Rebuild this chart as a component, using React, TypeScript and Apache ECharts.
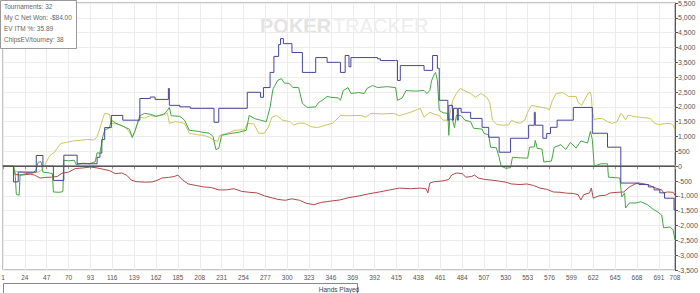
import React, { useEffect, useRef } from "react";
import * as echarts from "echarts";

// ---- data (hand number, value) ----
const handsMin = 1;
const handsMax = 708;
const handsStep = 23;
const yMin = -3500;
const yMax = 5500;
const yStep = 500;

const infoLines = ["Tournaments: 32", "My C Net Won: -$84.00", "EV ITM %: 35.89", "ChipsEV/tourney: 38"];
const xAxisTitle = "Hands Played";

// blue (step line)
const blueData = [[1,0],[12,-530],[17,-200],[36,360],[43,0],[54,-480],[65,370],[79,80],[100,300],[103,440],[105,900],[108,1300],[115,1710],[127,1550],[145,2280],[156,2330],[161,2250],[175,2620],[176,2050],[187,2000],[198,1950],[223,1480],[228,1950],[258,2490],[272,2320],[275,2650],[282,3160],[286,3700],[291,4100],[293,4300],[296,4130],[305,3830],[316,3160],[330,3660],[342,3500],[354,3500],[356,3160],[361,3730],[365,3350],[367,3660],[395,3620],[398,3560],[414,3560],[416,2890],[419,3390],[444,3230],[453,3730],[458,3300],[460,2220],[469,1550],[470,2050],[474,1550],[475,1950],[479,1550],[480,1950],[483,1815],[493,1610],[505,1310],[512,975],[523,470],[535,940],[554,1380],[560,1815],[561,1380],[569,940],[573,1100],[577,1310],[584,1550],[601,1980],[621,1110],[637,640],[651,-570],[670,-620],[680,-700],[686,-800],[692,-900],[697,-1080],[707,-1480],[708,-1480]];

const greenData = [[1,0],[12,0],[14,-350],[15,-950],[18,-980],[19,-300],[25,-250],[33,-230],[36,-100],[38,130],[41,150],[43,-200],[50,-230],[53,-250],[54,-870],[60,-880],[64,-860],[65,200],[70,180],[76,200],[78,50],[85,100],[92,80],[98,150],[100,450],[103,440],[106,1000],[108,1210],[113,1300],[115,1550],[120,1440],[127,1350],[130,1300],[134,1250],[137,970],[140,1200],[145,1700],[150,1780],[156,1750],[162,1680],[170,1750],[174,1880],[176,1980],[178,1700],[187,1680],[192,1550],[197,1210],[205,1180],[210,1150],[218,1110],[222,1000],[225,560],[228,600],[231,1040],[240,1100],[250,1150],[257,1210],[260,1710],[266,1600],[272,1550],[278,1500],[282,1980],[285,2600],[290,2890],[294,2950],[297,2800],[302,2790],[306,2650],[312,2650],[316,2120],[321,1980],[330,2000],[333,2150],[337,2220],[342,2350],[346,2320],[354,2300],[356,2220],[359,2550],[364,2650],[367,2450],[375,2480],[381,2450],[384,2620],[390,2720],[395,2650],[405,2680],[414,2650],[416,2220],[421,2300],[425,2550],[435,2530],[444,2550],[447,2450],[450,2550],[452,2890],[455,3120],[456,3160],[458,2900],[460,1880],[464,1800],[469,1780],[470,1040],[471,1600],[474,1550],[476,1300],[478,1710],[483,1700],[487,1550],[493,1500],[496,1280],[505,1250],[507,1110],[512,1050],[514,640],[520,620],[523,300],[525,0],[530,-70],[535,-50],[537,300],[545,280],[553,270],[555,640],[560,650],[561,870],[563,600],[568,580],[570,140],[578,170],[581,640],[588,720],[593,560],[598,800],[604,610],[609,850],[616,780],[619,1170],[621,900],[623,0],[630,80],[637,80],[638,-370],[650,-400],[652,-1040],[655,-900],[656,-1410],[660,-1240],[667,-1240],[672,-1200],[679,-1300],[685,-1450],[690,-1550],[694,-1650],[696,-2080],[703,-2050],[706,-2150],[708,-2490]];

const yellowData = [[1,0],[12,0],[14,-180],[25,-200],[35,-220],[38,-200],[41,-150],[46,100],[50,350],[55,470],[58,600],[62,770],[68,800],[75,850],[82,870],[90,900],[97,880],[100,1000],[103,1280],[106,1600],[108,1780],[113,1750],[115,1440],[122,1420],[127,1350],[130,1300],[134,1150],[137,970],[140,1200],[145,1650],[150,1620],[156,1700],[162,1680],[170,1730],[174,1800],[176,1440],[182,1500],[187,1480],[192,1440],[197,1110],[205,1060],[212,1040],[218,975],[223,870],[227,840],[229,1040],[236,1100],[245,1210],[255,1230],[258,1440],[265,1420],[270,1110],[276,1110],[280,1310],[284,1650],[289,1710],[295,1550],[303,1500],[307,1380],[312,1450],[318,1450],[325,1330],[332,1300],[340,1380],[348,1450],[356,1710],[365,1700],[377,1710],[383,1650],[388,1780],[400,1760],[412,1780],[418,1700],[430,1820],[440,1950],[444,1650],[450,1815],[455,1750],[460,1700],[464,1550],[470,1550],[472,1880],[474,2200],[478,2450],[482,2620],[486,2550],[493,2450],[498,2320],[504,2450],[510,2320],[513,2150],[516,1550],[521,1400],[527,1380],[533,1390],[536,1550],[540,1480],[545,1450],[550,1550],[553,1815],[557,2050],[565,2000],[573,1950],[576,1900],[579,2220],[583,2450],[590,2480],[596,2350],[604,2350],[606,2150],[610,2050],[613,2250],[617,2470],[619,2490],[620,2350],[621,1850],[623,1560],[627,1610],[632,1600],[637,1500],[642,1440],[647,1500],[651,1780],[653,1720],[656,1560],[659,1720],[665,1670],[674,1640],[682,1610],[686,1460],[691,1390],[697,1440],[703,1440],[706,1390],[708,1220]];

const redData = [[1,0],[12,0],[14,-280],[20,-300],[30,-270],[34,-300],[40,-400],[45,-380],[52,-370],[58,-350],[63,-240],[70,-200],[77,-80],[85,-60],[93,-30],[100,-60],[106,-100],[113,-150],[119,-250],[126,-230],[131,-300],[136,-470],[141,-520],[150,-540],[158,-530],[163,-480],[168,-400],[175,-380],[181,-350],[185,-300],[190,-470],[196,-600],[204,-650],[212,-700],[220,-720],[228,-800],[236,-800],[244,-760],[252,-850],[260,-880],[268,-900],[276,-1000],[283,-1060],[290,-1120],[298,-1150],[305,-1100],[313,-1150],[320,-1250],[328,-1300],[336,-1220],[345,-1180],[355,-1140],[365,-1060],[376,-1000],[386,-930],[397,-870],[408,-800],[418,-740],[430,-760],[440,-740],[446,-760],[448,-900],[450,-570],[455,-520],[463,-500],[470,-450],[473,-300],[478,-230],[484,-250],[488,-370],[494,-350],[497,-300],[501,-400],[508,-450],[515,-470],[522,-500],[530,-540],[536,-600],[545,-620],[552,-600],[559,-650],[566,-740],[573,-780],[580,-870],[587,-880],[594,-910],[601,-920],[606,-960],[609,-1140],[612,-960],[618,-900],[620,-740],[622,-1080],[628,-1000],[635,-980],[640,-900],[648,-880],[654,-870],[660,-700],[666,-600],[670,-570],[676,-600],[681,-640],[686,-720],[690,-760],[694,-800],[696,-900],[700,-870],[706,-880],[708,-980]];

const FONT = '"Liberation Sans", Arial, sans-serif';

export default function App() {
  const ref = useRef<HTMLDivElement>(null);
  useEffect(() => {
    if (!ref.current) return;
    const chart = echarts.init(ref.current, null, { renderer: "svg" });
    const lineSeries = (name: string, data: number[][], color: string, step?: string) => ({
      name,
      type: "line",
      data,
      step: step || false,
      symbol: "none",
      lineStyle: { color, width: 1 },
      itemStyle: { color },
      silent: true,
    });
    chart.setOption({
      animation: false,
      backgroundColor: "#ffffff",
      grid: {
        left: 3,
        right: 25,
        top: 3,
        bottom: 23,
        containLabel: false,
        outerBoundsMode: "none",
        show: true,
        borderColor: "#8a8a8a",
        borderWidth: 1,
      },
      xAxis: {
        type: "value",
        min: handsMin,
        max: handsMax,
        interval: handsStep,
        name: xAxisTitle,
        nameLocation: "middle",
        nameGap: 15,
        nameTextStyle: { fontSize: 6.5, color: "#444", fontFamily: FONT },
        axisLine: { show: true, lineStyle: { color: "#999", width: 2 } },
        axisTick: { show: true, length: 3, lineStyle: { color: "#999" } },
        axisLabel: { fontSize: 6.5, color: "#555", fontFamily: FONT, margin: 4, showMaxLabel: true, showMinLabel: true },
        splitLine: { show: true, lineStyle: { color: "#ececec", width: 1 } },
      },
      yAxis: {
        type: "value",
        position: "right",
        min: yMin,
        max: yMax,
        interval: yStep,
        axisLine: { show: true, lineStyle: { color: "#555", width: 1 } },
        axisTick: { show: true, length: 3, lineStyle: { color: "#555" } },
        axisLabel: {
          fontSize: 7,
          color: "#555",
          fontFamily: FONT,
          margin: 3,
          formatter: (v: number) => v.toLocaleString("en-US"),
        },
        splitLine: { show: true, lineStyle: { color: "#ececec", width: 1 } },
      },
      series: [
        {
          ...lineSeries("red", redData, "#b04848"),
          markLine: {
            silent: true,
            symbol: "none",
            label: { show: false },
            lineStyle: { color: "#555", width: 1, type: "solid" },
            data: [{ yAxis: 0 }],
          },
        },
        lineSeries("yellow", yellowData, "#c9c65e"),
        lineSeries("green", greenData, "#45a545"),
        lineSeries("blue", blueData, "#45459c", "end"),
      ],
      graphic: [
        {
          type: "text",
          x: 260,
          y: 16,
          z: -1,
          silent: true,
          style: { text: "POKER", fill: "#e3e3e3", fontSize: 20, fontWeight: "bold", fontFamily: FONT },
        },
        {
          type: "text",
          x: 333,
          y: 16,
          z: -1,
          silent: true,
          style: { text: "TRACKER", fill: "#ededed", fontSize: 20, fontFamily: FONT },
        },
        {
          type: "rect",
          z: 100,
          silent: true,
          shape: { x: 0.5, y: 0.5, width: 76, height: 48 },
          style: { fill: "#fff", stroke: "#9a9a9a", lineWidth: 1 },
        },
        ...infoLines.map((t, i) => ({
          type: "text",
          z: 101,
          silent: true,
          x: 4,
          y: 6 + i * 11,
          style: { text: t, fill: "#666", fontSize: 6.5, fontFamily: FONT, textVerticalAlign: "middle" },
        })),
        {
          type: "rect",
          silent: true,
          shape: { x: 3.5, y: 283.5, width: 354, height: 20 },
          style: { fill: "none", stroke: "#888", lineWidth: 1 },
        },
      ],
    });
    return () => chart.dispose();
  }, []);
  return <div ref={ref} style={{ position: "absolute", left: 0, top: 0, width: 700, height: 293 }} />;
}
